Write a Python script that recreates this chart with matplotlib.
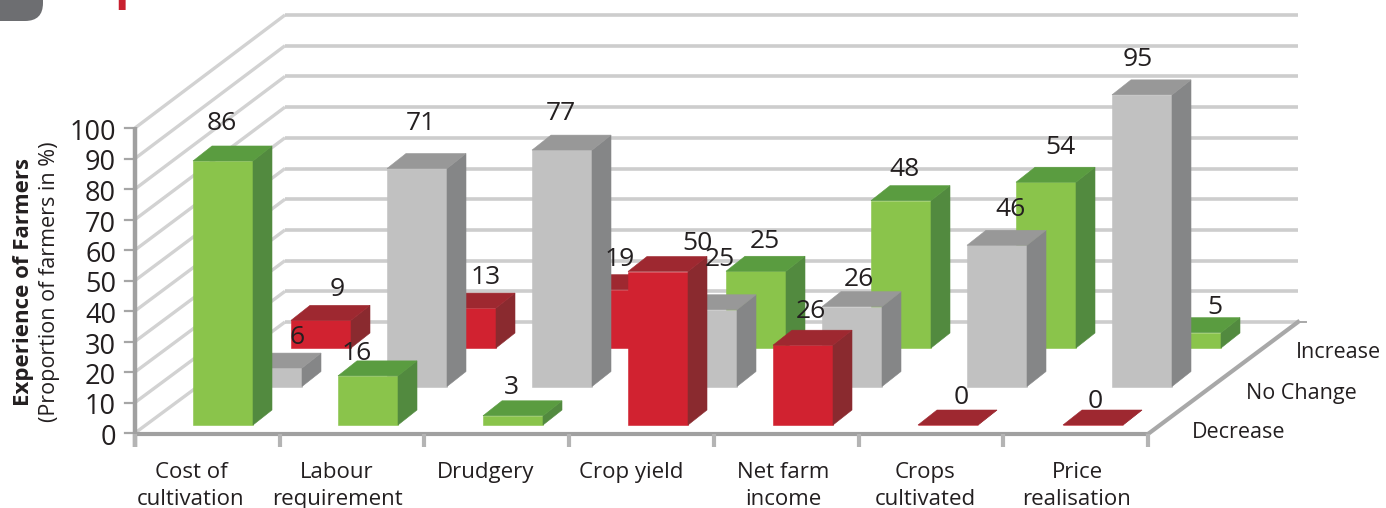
import matplotlib
matplotlib.use("Agg")
import matplotlib.pyplot as plt
from matplotlib.patches import Polygon, FancyBboxPatch

plt.rcParams["font.family"] = ["Open Sans", "DejaVu Sans"]

# data
categories = ["Cost of\ncultivation", "Labour\nrequirement", "Drudgery", "Crop yield",
              "Net farm\nincome", "Crops\ncultivated", "Price\nrealisation"]
rows = ["Decrease", "No Change", "Increase"]
decrease = [86, 16, 3, 50, 26, 0, 0]
no_change = [6, 71, 77, 25, 26, 46, 95]
increase = [9, 13, 19, 25, 48, 54, 5]
y_ticks = list(range(0, 101, 10))

# colours of each bar, the chart swaps red and green by category
decrease_col = ["green", "green", "green", "red", "red", "red", "red"]
no_change_col = ["grey"] * 7
increase_col = ["red", "red", "red", "green", "green", "green", "green"]

palette = {
    "green": ("#8ac44b", "#5a9c40", "#528a3f"),
    "red": ("#d12230", "#9e2830", "#8a2a2f"),
    "grey": ("#c1c1c1", "#989898", "#858687"),
}

# label spots, placed by hand in the original
decrease_lab = [(222, 124), (357, 353), (511, 387), (697, 243), (811, 312), (961, 397), (1095, 402)]
no_change_lab = [(297, 338), (421, 123), (561, 114), (720, 259), (859, 280), (1010, 209), (1138, 59)]
increase_lab = [(337, 290), (486, 278), (620, 259), (765, 241), (904, 170), (1060, 147), (1215, 307)]
cat_x = [191, 337, 486, 631, 783, 925, 1077]
row_pos = [(1239, 433), (1301, 394), (1338, 353)]

# fake 3d geometry, all in pixels
UNIT = 3.07
AXIS_UNIT = 3.05
BAR_W = 60
STEP = 145
X0, Y0 = 193, 425
ROW_DX, ROW_DY = 49, -38.5
DEPTH_DX, DEPTH_DY = 19, -15

fig = plt.figure(figsize=(13.86, 5.08), dpi=100)
ax = fig.add_axes([0, 0, 1, 1])
ax.set_xlim(0, 1386)
ax.set_ylim(508, 0)
ax.axis("off")

TXT = "#231f20"

# cut off header bits
ax.add_patch(FancyBboxPatch((-40, -40), 83, 61, boxstyle="round,pad=0,rounding_size=18",
                            mutation_aspect=1, fc="#6d6e71", ec="none", zorder=1))
ax.text(114, -1, "p", color="#c8202f", fontsize=34, fontweight="bold", va="baseline", clip_on=True)

# walls
for v in y_ticks:
    y_front = 433 - v * AXIS_UNIT
    y_back = 322 - v * 3.07
    ax.plot([135, 285], [y_front, y_back], color="#d2d2d2", lw=2.4, solid_capstyle="butt", zorder=2)
    ax.plot([285, 1298], [y_back, y_back], color="#cdcdcd", lw=2.6, solid_capstyle="butt", zorder=2)
    ax.plot([125, 135], [y_front, y_front], color="#a6a6a6", lw=1.6, zorder=2)
    ax.text(116, y_front + 5, str(v), ha="right", va="center", fontsize=19.5, color=TXT, zorder=6)

ax.plot([135, 135], [127, 447], color="#a0a0a0", lw=3.2, solid_capstyle="butt", zorder=3)
ax.plot([135, 1150], [434, 434], color="#a0a0a0", lw=3.0, solid_capstyle="butt", zorder=3)
ax.plot([1148, 1298], [434, 322], color="#a8a8a8", lw=3.0, zorder=3)
ax.plot([1298, 1306], [322, 322], color="#a8a8a8", lw=1.4, zorder=3)
for i in range(8):
    xt = 135 + i * 144.7
    ax.plot([xt, xt], [434, 447], color="#b4b4b4", lw=3.0, solid_capstyle="butt", zorder=3)


def draw_bar(cat, row, value, colour):
    left = X0 + cat * STEP + row * ROW_DX
    base = Y0 + row * ROW_DY
    top = base - value * UNIT
    right = left + BAR_W
    front, top_col, side = palette[colour]
    faces = [
        ([(left, base), (right, base), (right, top), (left, top)], front),
        ([(right, base), (right + DEPTH_DX, base + DEPTH_DY),
          (right + DEPTH_DX, top + DEPTH_DY), (right, top)], side),
        ([(left, top), (right, top), (right + DEPTH_DX, top + DEPTH_DY),
          (left + DEPTH_DX, top + DEPTH_DY)], top_col),
    ]
    for pts, col in faces:
        ax.add_patch(Polygon(pts, closed=True, fc=col, ec=col, lw=0.4, zorder=4))


# back to front so nearer bars hide the rest
for row, vals, cols in [(2, increase, increase_col), (1, no_change, no_change_col), (0, decrease, decrease_col)]:
    for cat in range(len(categories)):
        draw_bar(cat, row, vals[cat], cols[cat])

for vals, spots in [(increase, increase_lab), (no_change, no_change_lab), (decrease, decrease_lab)]:
    for v, (lx, ly) in zip(vals, spots):
        ax.text(lx, ly, str(v), ha="center", va="center", fontsize=19, color=TXT, zorder=6)

for name, cx in zip(categories, cat_x):
    ax.text(cx, 462, name, ha="center", va="top", fontsize=16, color=TXT, linespacing=1.36, zorder=6)

for name, (rx, ry) in zip(rows, row_pos):
    ax.text(rx, ry, name, ha="center", va="center", fontsize=15.5, color=TXT, zorder=6)

ax.text(24, 281.5, "Experience of Farmers", rotation=90, ha="center", va="center",
        fontsize=16, fontweight="bold", color=TXT)
ax.text(50, 281.5, "(Proportion of farmers in %)", rotation=90, ha="center", va="center",
        fontsize=15.5, color=TXT)

fig.savefig("out.png", dpi=100)
